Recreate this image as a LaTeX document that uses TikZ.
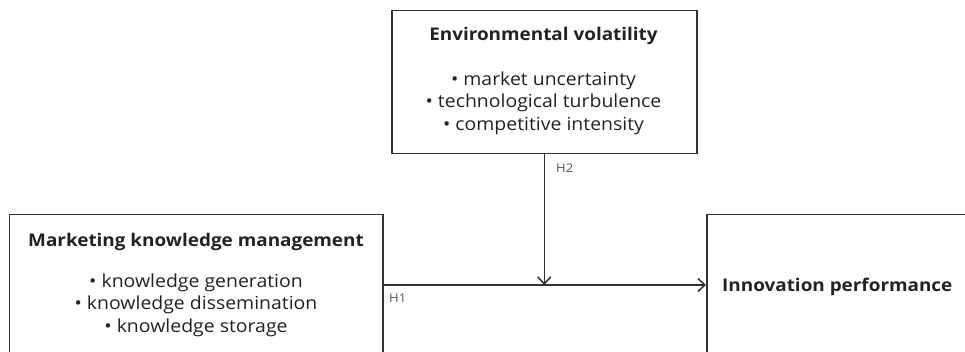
\documentclass[tikz,border=0pt]{standalone}
\usepackage{fontspec}
\setmainfont{Open Sans}[FakeStretch=1.08]
\usetikzlibrary{arrows.meta}
\definecolor{ink}{HTML}{222222}
\definecolor{edge}{HTML}{333333}
\definecolor{lab}{HTML}{555555}
\tikzset{
  box/.style={draw=edge, line width=1.5pt, rectangle, inner sep=0pt, anchor=north west},
  ttl/.style={text=ink, font=\fontsize{17.5}{20}\selectfont\bfseries, inner sep=0pt},
  bul/.style={text=ink, font=\fontsize{18}{22.5}\selectfont, align=center, inner sep=0pt},
  hlab/.style={text=lab, font=\fontsize{12}{14}\selectfont, inner sep=0pt, anchor=west},
  conn/.style={draw=edge, line width=1.5pt, -{Straight Barb[length=7pt,width=13pt,line width=1.5pt]}}
}
\begin{document}
\begin{tikzpicture}[x=1pt,y=1pt]
\useasboundingbox (0,0) rectangle (965,-352);
\clip (0,0) rectangle (965,-352);
% boxes
\node[box, minimum width=305pt, minimum height=143pt] (ev) at (391,-10) {};
\node[box, minimum width=373.5pt, minimum height=200pt] (mkm) at (8.5,-214) {};
\node[box, minimum width=300pt, minimum height=200pt] (ip) at (706,-214) {};
% texts
\node[ttl] (evt) at (543.5,-36) {Environmental volatility};
\node[bul] (evb) at (543.5,-103) {• market uncertainty\\• technological turbulence\\• competitive intensity};
\node[ttl] (mkmt) at (196,-242) {Marketing knowledge management};
\node[bul] (mkmb) at (196,-305) {• knowledge generation\\• knowledge dissemination\\• knowledge storage};
\node[ttl, anchor=west] (ipt) at (722,-287) {Innovation performance};
% connectors
\coordinate (j) at (ev.south |- 0,-285);
\draw[conn] (ev.south) -- (j);
\draw[conn] (mkm.east |- j) -- (ip.west |- j);
\node[hlab] (h2) at (556,-168) {H2};
\node[hlab] (h1) at (389,-298) {H1};
\end{tikzpicture}
\end{document}
